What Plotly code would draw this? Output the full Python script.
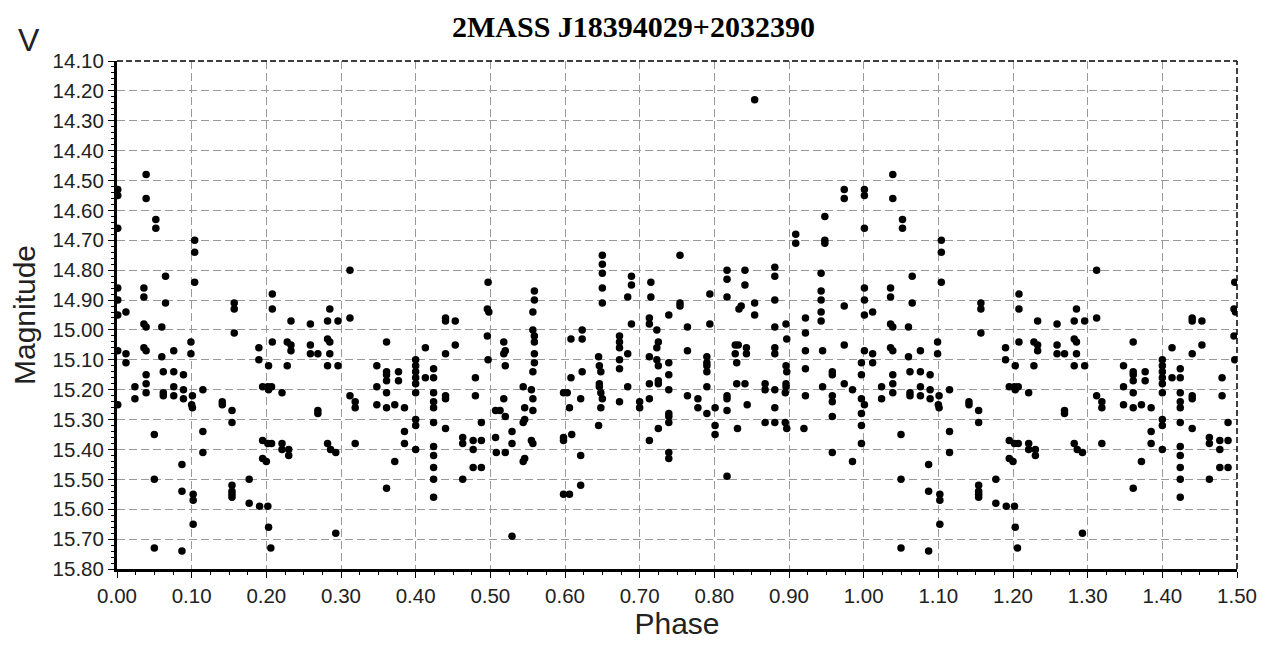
import plotly.graph_objects as go

# V light curve of 2MASS J18394029+2032390, folded on its period.
# phase and magnitude are parallel lists, one line per little group of points.
phase = [
    0.001, 0.001, 0.001, 0.001, 0.001, 0.001, 0.001, 0.001,
    0.012, 0.012, 0.012,
    0.024, 0.024,
    0.036, 0.036, 0.036, 0.039, 0.036, 0.039, 0.039, 0.039, 0.039, 0.039, 0.039,
    0.050, 0.050, 0.050, 0.052, 0.052,
    0.060, 0.060, 0.062, 0.062, 0.062, 0.065, 0.065,
    0.076, 0.076, 0.076, 0.076,
    0.087, 0.087, 0.087, 0.089, 0.089, 0.089,
    0.099, 0.099, 0.101, 0.100, 0.101, 0.102, 0.102, 0.102,
    0.104, 0.104, 0.104, 0.115, 0.115, 0.115,
    0.141, 0.141,
    0.154, 0.154, 0.154, 0.154, 0.154, 0.154,
    0.157, 0.157, 0.157,
    0.177, 0.177,
    0.190, 0.190, 0.191,
    0.195, 0.202, 0.195, 0.200, 0.195, 0.202, 0.203, 0.207,
    0.203, 0.202, 0.203, 0.206, 0.207,
    0.208, 0.208, 0.208,
    0.221, 0.221, 0.221, 0.230, 0.230,
    0.228, 0.233, 0.233, 0.228, 0.233,
    0.259, 0.259, 0.259, 0.269,
    0.269, 0.269,
    0.282, 0.286, 0.293,
    0.282, 0.296, 0.285, 0.282, 0.285, 0.285, 0.282, 0.296,
    0.293,
    0.312, 0.312, 0.312, 0.319, 0.319, 0.319,
    0.348, 0.348, 0.348,
    0.361, 0.361, 0.361, 0.361, 0.361, 0.361, 0.361,
    0.372, 0.372, 0.377, 0.377,
    0.385, 0.385, 0.385,
    0.400, 0.400, 0.400, 0.400, 0.400, 0.400, 0.400, 0.400, 0.400,
    0.413, 0.413,
    0.424, 0.424, 0.424, 0.424, 0.424, 0.424, 0.424, 0.424, 0.424, 0.424, 0.424,
    0.440, 0.440, 0.440, 0.440, 0.440, 0.453, 0.453, 0.440,
    0.463, 0.463, 0.463,
    0.477, 0.477, 0.480, 0.480, 0.477, 0.488, 0.488, 0.488,
    0.497, 0.496, 0.498, 0.496, 0.497,
    0.507, 0.507, 0.513, 0.508,
    0.518, 0.520, 0.520,
    0.518, 0.520, 0.518, 0.520,
    0.529, 0.529, 0.529,
    0.544, 0.555, 0.544, 0.546, 0.544, 0.546, 0.546,
    0.557, 0.557, 0.555, 0.557,
    0.559, 0.559, 0.557, 0.557, 0.559, 0.559, 0.559, 0.559, 0.557,
    0.598, 0.603, 0.598, 0.598, 0.598, 0.606,
    0.606, 0.608, 0.608, 0.609,
    0.621, 0.621, 0.621, 0.623, 0.623, 0.623,
    0.650, 0.650, 0.650, 0.650, 0.650,
    0.645, 0.646, 0.648, 0.646, 0.646, 0.648, 0.650, 0.648, 0.645,
    0.673, 0.673, 0.673, 0.673, 0.673, 0.673,
    0.684, 0.684, 0.684, 0.689, 0.689, 0.689,
    0.700, 0.700,
    0.713, 0.713, 0.713, 0.713, 0.713, 0.715, 0.715, 0.713,
    0.723, 0.725, 0.723, 0.723, 0.725, 0.725, 0.725, 0.725,
    0.739, 0.739, 0.739, 0.739, 0.739, 0.739, 0.739, 0.739, 0.739,
    0.754, 0.754, 0.754,
    0.764, 0.764, 0.764,
    0.778, 0.778,
    0.790, 0.790, 0.790, 0.790, 0.790, 0.790, 0.794, 0.794,
    0.801, 0.801, 0.801,
    0.817, 0.817, 0.817, 0.817, 0.817, 0.817, 0.817,
    0.828, 0.832, 0.828, 0.830, 0.830, 0.831, 0.833, 0.836,
    0.841, 0.841, 0.841, 0.843, 0.843, 0.844,
    0.854, 0.854, 0.854,
    0.868, 0.868, 0.868,
    0.881, 0.881, 0.881, 0.881, 0.881, 0.881, 0.881, 0.881, 0.881,
    0.896, 0.897, 0.896, 0.897, 0.896, 0.896, 0.895, 0.895, 0.897,
    0.909, 0.909,
    0.922, 0.922, 0.922, 0.922, 0.922, 0.920,
    0.943, 0.943, 0.943, 0.943, 0.943, 0.945, 0.945,
    0.948, 0.948, 0.948,
    0.958, 0.958, 0.958, 0.958, 0.958, 0.958,
    0.974, 0.974, 0.974, 0.974, 0.974,
    0.985, 0.985,
    0.997, 0.997, 0.997, 0.997, 0.997, 0.997,
]

vmag = [
    14.53, 14.55, 14.66, 14.86, 14.90, 14.95, 15.07, 15.25,
    14.94, 15.08, 15.11,
    15.19, 15.23,
    14.86, 14.89, 14.98, 14.99, 15.06, 15.07, 15.15, 15.18, 15.21, 14.48, 14.56,
    15.35, 15.50, 15.73, 14.63, 14.66,
    14.99, 15.09, 15.14, 15.21, 15.22, 14.82, 14.91,
    15.07, 15.14, 15.19, 15.22,
    15.45, 15.54, 15.74, 15.15, 15.20, 15.23,
    15.04, 15.08, 15.22, 15.25, 15.26, 15.55, 15.57, 15.65,
    14.70, 14.74, 14.84, 15.20, 15.34, 15.41,
    15.24, 15.25,
    15.27, 15.31, 15.52, 15.54, 15.55, 15.56,
    14.91, 14.93, 15.01,
    15.50, 15.58,
    15.06, 15.10, 15.59,
    15.37, 15.38, 15.43, 15.44, 15.19, 15.19, 15.20, 15.19,
    15.12, 15.59, 15.66, 15.73, 15.38,
    14.88, 14.93, 15.04,
    15.21, 15.38, 15.40, 15.40, 15.42,
    15.04, 15.05, 15.07, 15.12, 14.97,
    14.98, 15.05, 15.08, 15.08,
    15.27, 15.28,
    15.38, 15.40, 15.41,
    14.97, 14.97, 14.93, 15.03, 15.04, 15.08, 15.12, 15.12,
    15.68,
    14.80, 14.96, 15.22, 15.24, 15.26, 15.38,
    15.12, 15.19, 15.25,
    15.04, 15.14, 15.15, 15.17, 15.21, 15.26, 15.53,
    15.25, 15.44, 15.14, 15.17,
    15.26, 15.34, 15.38,
    15.10, 15.12, 15.14, 15.16, 15.18, 15.21, 15.30, 15.32, 15.40,
    15.06, 15.16,
    15.13, 15.16, 15.21, 15.24, 15.26, 15.31, 15.39, 15.42, 15.46, 15.50, 15.56,
    15.22, 15.23, 15.33, 14.96, 14.97, 14.97, 15.05, 15.08,
    15.36, 15.38, 15.50,
    15.37, 15.40, 15.16, 15.22, 15.46, 15.46, 15.31, 15.37,
    14.84, 14.93, 14.94, 15.02, 15.10,
    15.36, 15.27, 15.27, 15.41,
    15.23, 15.29, 15.41,
    15.04, 15.07, 15.08, 15.12,
    15.34, 15.38, 15.69,
    15.19, 15.20, 15.31, 15.30, 15.44, 15.43, 15.26,
    15.23, 15.27, 15.37, 15.38,
    14.87, 14.90, 14.94, 15.00, 15.02, 15.04, 15.08, 15.11, 15.14,
    15.21, 15.21, 15.36, 15.37, 15.55, 15.55,
    15.26, 15.03, 15.16, 15.35,
    15.42, 15.52, 15.23, 15.14, 15.00, 15.03,
    14.75, 14.78, 14.81, 14.86, 14.91,
    15.09, 15.12, 15.14, 15.18, 15.19, 15.21, 15.23, 15.26, 15.32,
    15.02, 15.04, 15.06, 15.10, 15.13, 15.24,
    15.08, 15.19, 14.89, 14.82, 14.85, 14.98,
    15.24, 15.26,
    15.18, 15.23, 14.96, 14.98, 15.09, 14.84, 14.89, 15.37,
    15.00, 15.04, 15.06, 15.10, 15.12, 15.17, 15.18, 15.33,
    14.95, 15.11, 15.15, 15.20, 15.28, 15.29, 15.31, 15.41, 15.43,
    14.75, 14.91, 14.92,
    14.99, 15.07, 15.22,
    15.23, 15.26,
    15.28, 15.19, 15.09, 15.11, 15.12, 15.14, 14.88, 14.98,
    15.26, 15.32, 15.35,
    14.80, 14.83, 14.89, 15.22, 15.23, 15.27, 15.49,
    15.05, 15.05, 15.08, 15.11, 15.18, 15.33, 14.93, 14.92,
    14.80, 14.85, 15.18, 15.06, 15.08, 15.25,
    14.23, 14.91, 14.95,
    15.18, 15.20, 15.31,
    14.79, 14.82, 14.90, 14.99, 15.06, 15.08, 15.20, 15.26, 15.31,
    14.98, 15.03, 15.12, 15.14, 15.18, 15.19, 15.21, 15.31, 15.33,
    14.68, 14.71,
    14.96, 15.01, 15.07, 15.13, 15.22, 15.33,
    14.81, 14.87, 14.90, 14.94, 14.97, 15.07, 15.19,
    14.62, 14.70, 14.71,
    15.14, 15.15, 15.22, 15.24, 15.29, 15.41,
    14.53, 14.56, 14.92, 15.05, 15.18,
    15.20, 15.44,
    15.11, 15.15, 15.23, 15.28, 15.32, 15.38,
]

star_name = "2MASS J18394029+2032390"
band = "V"
phase_range = [0.0, 1.5]
mag_range = [15.80, 14.10]   # reversed: brighter is up

assert len(phase) == len(vmag)

# the plot repeats the first half cycle after phase 1
x = phase + [p + 1 for p in phase if p < 0.5]
y = vmag + [m for p, m in zip(phase, vmag) if p < 0.5]

tick_font = dict(family="Liberation Sans, Arial, sans-serif", size=20.5, color="#222")
label_font = dict(family="Liberation Sans, Arial, sans-serif", size=30, color="#222")

# plot area in the page, for placing the free texts
PX0, PX1, PY0, PY1 = 110, 1237, 61, 569

fig = go.Figure()
fig.add_trace(go.Scatter(
    x=x,
    y=y,
    mode='markers',
    marker=dict(color='black', size=7.5, symbol='circle'),
    showlegend=False
))

axis_common = dict(
    showgrid=True,
    gridcolor='#9a9a9a',
    gridwidth=1,
    griddash='8px,4px',
    showline=True,
    linecolor='black',
    linewidth=3,
    ticks='outside',
    ticklen=6,
    tickwidth=1,
    tickcolor='black',
    tickformat='.2f',
    tickfont=tick_font,
    zeroline=False,
)

fig.update_xaxes(
    range=phase_range,
    tick0=0,
    dtick=0.1,
    minor=dict(dtick=0.025, ticks='outside', ticklen=3, tickcolor='black', showgrid=False),
    title=dict(text="Phase", font=label_font, standoff=6),
    **axis_common
)
fig.update_yaxes(
    range=mag_range,
    tick0=14.1,
    dtick=0.1,
    minor=dict(dtick=0.02, ticks='outside', ticklen=3, tickcolor='black', showgrid=False),
    title=dict(text="Magnitude", font=label_font, standoff=12),
    **axis_common
)

# top and right borders are dashed black in the original
fig.add_shape(type='line', xref='paper', yref='paper', x0=0, x1=1, y0=1, y1=1,
              line=dict(color='black', width=1.5, dash='6px,3px'))
fig.add_shape(type='line', xref='paper', yref='paper', x0=1, x1=1, y0=0, y1=1,
              line=dict(color='black', width=1.5, dash='6px,3px'))

def paper_x(px):
    return (px - PX0) / (PX1 - PX0)

def paper_y(py):
    return (PY1 - py) / (PY1 - PY0)

fig.add_annotation(
    text=band, xref='paper', yref='paper',
    x=paper_x(21), y=paper_y(40),
    xanchor='center', yanchor='middle', showarrow=False,
    font=dict(family="Liberation Sans, Arial, sans-serif", size=32, color="#222")
)

# chart title as a free text; kept a few px low so its box stays inside the page
fig.add_annotation(
    text="<b>" + star_name + "</b>", xref='paper', yref='paper',
    x=paper_x(630), y=paper_y(27),
    xanchor='center', yanchor='middle', showarrow=False,
    font=dict(family="Liberation Serif, Times New Roman, serif", size=30, color='black')
)

# the page body adds an 8px offset, so margins are shifted to compensate
fig.update_layout(
    width=1268,
    height=645,
    margin=dict(l=102, r=39, t=53, b=84),
    paper_bgcolor='white',
    plot_bgcolor='white',
)

fig.write_html("out.html")
